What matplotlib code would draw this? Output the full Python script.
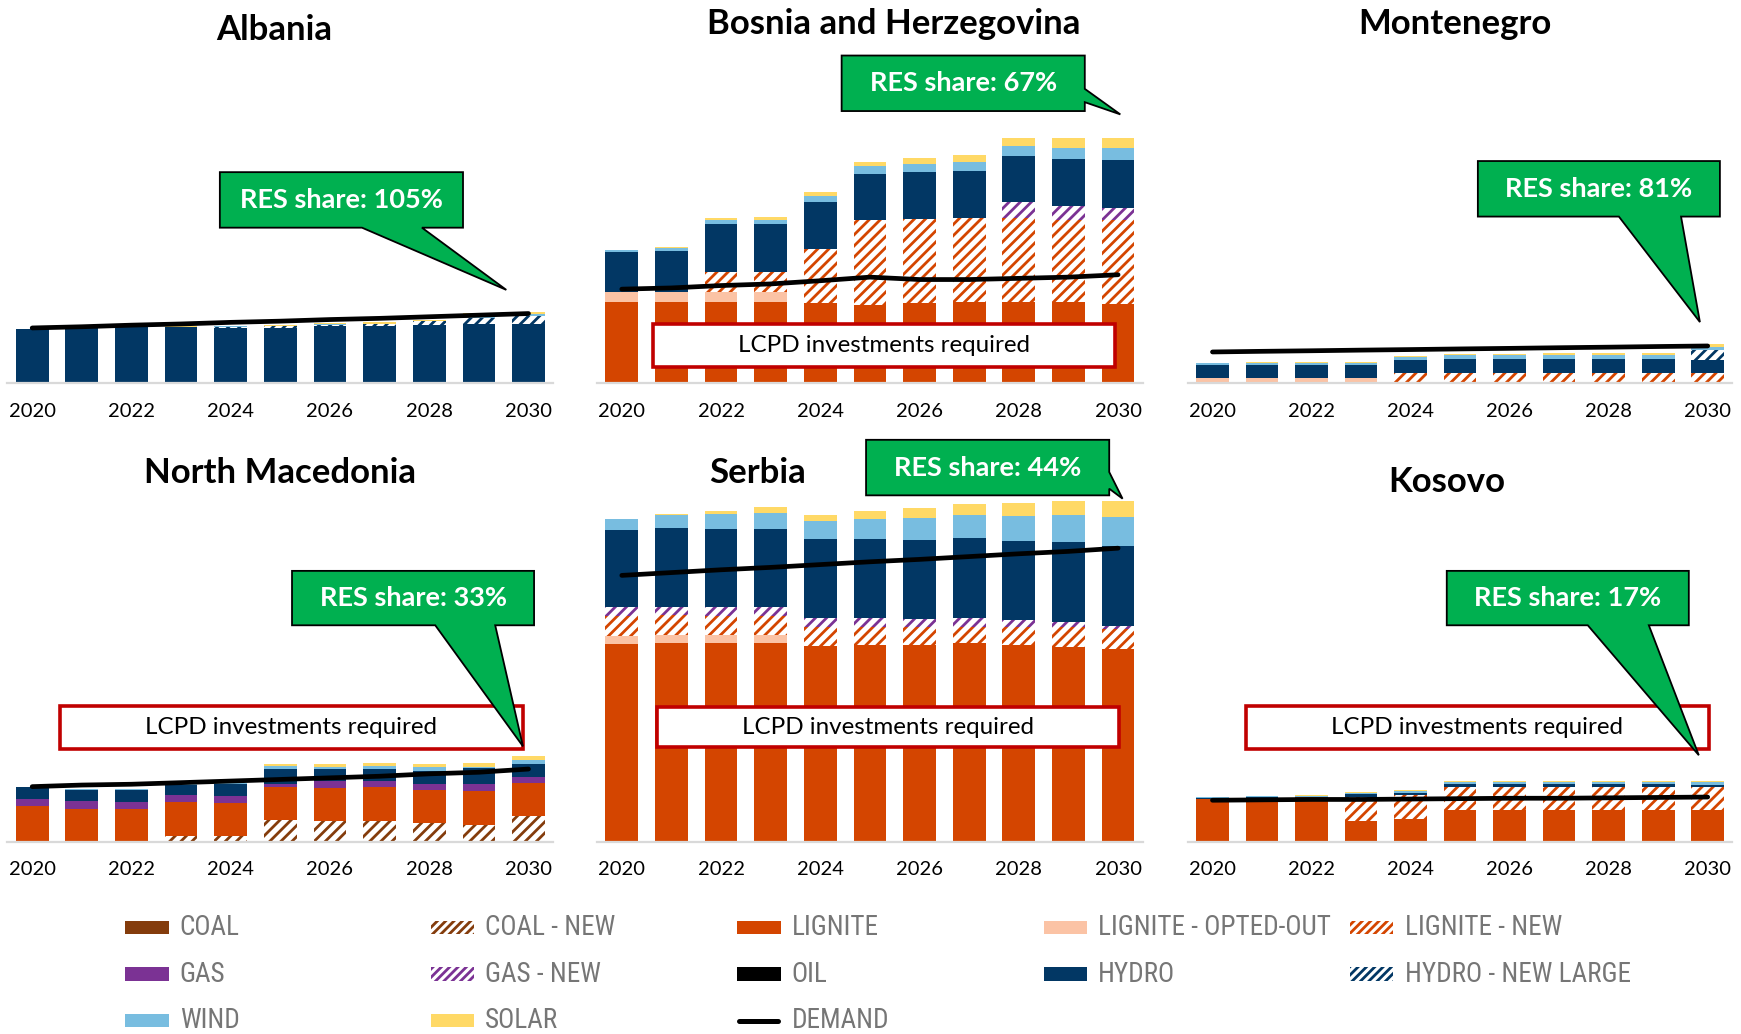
import numpy as np
import matplotlib
matplotlib.use("Agg")
import matplotlib.pyplot as plt
from matplotlib.patches import Polygon, Rectangle
from matplotlib.lines import Line2D
from matplotlib import font_manager

plt.rcParams['font.family'] = ['Lato', 'DejaVu Sans']
plt.rcParams['hatch.linewidth'] = 2.0

# ---------------- data (TWh) ----------------
YEARS = [2020, 2021, 2022, 2023, 2024, 2025, 2026, 2027, 2028, 2029, 2030]
TICK_YEARS = [2020, 2022, 2024, 2026, 2028, 2030]

# Albania
ALB_HYDRO = [6.8, 6.9, 7.0, 7.0, 6.9, 6.9, 7.1, 7.1, 7.3, 7.4, 7.4]
ALB_HYDRO_NEW = [0, 0, 0, 0.05, 0.15, 0.2, 0.2, 0.25, 0.5, 0.8, 1.05]
ALB_WIND = [0, 0, 0, 0, 0.05, 0.05, 0.1, 0.1, 0.0, 0.3, 0.2]
ALB_SOLAR = [0.02, 0.02, 0.03, 0.05, 0.05, 0.1, 0.15, 0.2, 0.05, 0.3, 0.3]
ALB_DEMAND = [6.9, 7.05, 7.25, 7.4, 7.6, 7.75, 7.95, 8.1, 8.3, 8.5, 8.7]

# Bosnia and Herzegovina
BIH_LIGNITE = [10.1, 10.1, 10.1, 10.1, 10.0, 9.8, 10.0, 10.1, 10.1, 10.1, 9.9]
BIH_LIG_OPT = [1.25, 1.25, 1.25, 1.25, 0, 0, 0, 0, 0, 0, 0]
BIH_LIG_NEW = [0, 0, 2.6, 2.6, 6.8, 10.6, 10.5, 10.5, 10.6, 10.3, 10.5]
BIH_GAS_NEW = [0, 0, 0, 0, 0, 0, 0, 0, 1.9, 1.75, 1.5]
BIH_HYDRO = [5.1, 5.2, 5.9, 5.9, 5.9, 5.8, 5.9, 5.9, 5.8, 5.9, 6.0]
BIH_WIND = [0.2, 0.3, 0.55, 0.6, 0.7, 0.9, 1.0, 1.1, 1.25, 1.4, 1.45]
BIH_SOLAR = [0, 0.2, 0.25, 0.35, 0.55, 0.6, 0.7, 0.9, 1.05, 1.15, 1.3]
BIH_DEMAND = [11.75, 11.9, 12.2, 12.4, 12.8, 13.25, 12.95, 12.95, 13.1, 13.25, 13.55]

# Montenegro
MNE_LIG_OPT = [0.67, 0.67, 0.67, 0.67, 0, 0, 0, 0, 0, 0, 0]
MNE_LIG_NEW = [0, 0, 0, 0, 1.33, 1.33, 1.33, 1.33, 1.33, 1.33, 1.33]
MNE_HYDRO = [1.55, 1.6, 1.6, 1.6, 1.6, 1.65, 1.65, 1.65, 1.65, 1.65, 1.6]
MNE_HYDRO_NEW = [0, 0, 0, 0, 0, 0.1, 0.1, 0.1, 0.1, 0.1, 1.25]
MNE_WIND = [0.3, 0.3, 0.3, 0.3, 0.33, 0.4, 0.4, 0.4, 0.4, 0.4, 0.33]
MNE_SOLAR = [0, 0.1, 0.12, 0.12, 0.17, 0.12, 0.17, 0.25, 0.3, 0.3, 0.4]
MNE_DEMAND = [3.9, 3.98, 4.05, 4.13, 4.2, 4.28, 4.35, 4.43, 4.5, 4.58, 4.65]

# North Macedonia
MKD_COAL_NEW = [0, 0, 0, 0.75, 0.7, 2.7, 2.6, 2.6, 2.4, 2.15, 3.25]
MKD_LIGNITE = [4.45, 4.1, 4.1, 4.25, 4.2, 4.2, 4.1, 4.2, 4.1, 4.2, 4.1]
MKD_GAS = [0.95, 0.95, 0.85, 0.8, 0.85, 0.35, 0.9, 0.75, 0.75, 0.85, 0.7]
MKD_HYDRO = [1.4, 1.45, 1.5, 1.3, 1.5, 1.9, 1.45, 1.55, 1.55, 2.0, 1.7]
MKD_WIND = [0.1, 0.1, 0.1, 0.1, 0.1, 0.35, 0.35, 0.4, 0.5, 0.15, 0.5]
MKD_SOLAR = [0, 0, 0.1, 0.05, 0.05, 0.25, 0.3, 0.35, 0.4, 0.45, 0.45]
MKD_DEMAND = [6.9, 7.1, 7.2, 7.4, 7.6, 7.8, 8.0, 8.2, 8.5, 8.7, 9.1]

# Serbia
SRB_LIGNITE = [24.7, 24.9, 24.8, 24.8, 24.5, 24.6, 24.6, 24.8, 24.6, 24.4, 24.1]
SRB_LIG_OPT = [1.05, 0.95, 1.05, 1.05, 0, 0, 0, 0, 0, 0, 0]
SRB_LIG_NEW = [2.5, 2.5, 2.4, 2.4, 2.3, 2.25, 2.2, 2.1, 2.2, 2.4, 2.5]
SRB_GAS_NEW = [1.05, 1.05, 1.1, 1.1, 1.15, 1.15, 1.05, 1.1, 0.9, 0.7, 0.4]
SRB_HYDRO = [9.7, 9.8, 9.75, 9.75, 9.9, 9.9, 9.9, 9.95, 9.9, 10.0, 10.0]
SRB_WIND = [1.35, 1.6, 1.85, 2.05, 2.2, 2.45, 2.7, 2.9, 3.15, 3.4, 3.6]
SRB_SOLAR = [0, 0.2, 0.4, 0.65, 0.85, 1.05, 1.25, 1.4, 1.55, 1.75, 2.05]
SRB_DEMAND = [33.3, 33.65, 34.0, 34.3, 34.65, 35.0, 35.3, 35.65, 36.0, 36.3, 36.7]

# Kosovo
KOS_LIGNITE = [5.4, 5.5, 5.6, 2.6, 2.9, 3.95, 3.95, 3.95, 3.95, 3.95, 3.95]
KOS_LIG_NEW = [0, 0, 0, 3.05, 2.9, 2.9, 2.9, 2.9, 2.9, 2.9, 2.9]
KOS_HYDRO = [0.1, 0.1, 0.05, 0.3, 0.35, 0.35, 0.35, 0.35, 0.35, 0.35, 0.3]
KOS_WIND = [0.15, 0.1, 0.1, 0.2, 0.2, 0.25, 0.25, 0.25, 0.25, 0.25, 0.3]
KOS_SOLAR = [0, 0, 0.1, 0.1, 0.15, 0.15, 0.15, 0.15, 0.15, 0.15, 0.2]
KOS_DEMAND = [5.2, 5.25, 5.3, 5.3, 5.35, 5.4, 5.45, 5.45, 5.5, 5.55, 5.6]

RES_SHARE = {"Albania": "105%", "Bosnia and Herzegovina": "67%", "Montenegro": "81%",
             "North Macedonia": "33%", "Serbia": "44%", "Kosovo": "17%"}

# ---------------- styles ----------------
# key, legend label, colour, hatched
SERIES = [
    ("COAL", "COAL", "#843C0C", False),
    ("COAL_NEW", "COAL - NEW", "#843C0C", True),
    ("LIGNITE", "LIGNITE", "#D44500", False),
    ("LIG_OPT", "LIGNITE - OPTED-OUT", "#FBC3A5", False),
    ("LIG_NEW", "LIGNITE - NEW", "#D44500", True),
    ("GAS", "GAS", "#7B3294", False),
    ("GAS_NEW", "GAS - NEW", "#7B3294", True),
    ("OIL", "OIL", "#000000", False),
    ("HYDRO", "HYDRO", "#023764", False),
    ("HYDRO_NEW", "HYDRO - NEW LARGE", "#023764", True),
    ("WIND", "WIND", "#78BDE0", False),
    ("SOLAR", "SOLAR", "#FFD966", False),
]
STYLE = {k: (c, h) for k, _, c, h in SERIES}
HATCH = "///"
GREEN = "#00B050"
RED = "#C00000"

# panel geometry in reference pixels (1568 x 931 view)
W, H = 1568.0, 931.0
PX_PER_TWH = 7.205


def fx(x):
    return x / W


def fy(y):
    return 1 - y / H


def draw_panel(fig, left, right, base, top, series, demand):
    ax = fig.add_axes([fx(left), fy(base), (right - left) / W, (base - top) / H])
    x = np.arange(len(YEARS))
    bottom = np.zeros(len(YEARS))
    for key, vals in series:
        vals = np.asarray(vals, dtype=float)
        color, hatched = STYLE[key]
        if hatched:
            ax.bar(x, vals, 0.66, bottom=bottom, facecolor="white", edgecolor=color,
                   hatch=HATCH, linewidth=0)
        else:
            ax.bar(x, vals, 0.66, bottom=bottom, color=color, linewidth=0)
        bottom += vals
    ax.plot(x, demand, color="black", lw=3.4, solid_capstyle="round", zorder=5)
    ax.set_xlim(-0.5, len(YEARS) - 0.5)
    ax.set_ylim(0, (base - top) / PX_PER_TWH)
    ax.set_xticks([YEARS.index(y) for y in TICK_YEARS])
    ax.set_xticklabels([str(y) for y in TICK_YEARS], fontsize=14.5)
    ax.tick_params(axis="x", length=0, pad=14)
    ax.set_yticks([])
    for s in ["left", "right", "top"]:
        ax.spines[s].set_visible(False)
    ax.spines["bottom"].set_color("#D9D9D9")
    ax.spines["bottom"].set_linewidth(1.6)
    ax.patch.set_alpha(0)
    return ax


fig = plt.figure(figsize=(17.41, 10.34), dpi=100)

COLS = [(6.65, 498.35), (537.65, 1029.35), (1069.7, 1560.3)]
TOP_BASE, BOT_BASE = 345, 758

panels = [
    ("Albania", 0, TOP_BASE, 60,
     [("HYDRO", ALB_HYDRO), ("HYDRO_NEW", ALB_HYDRO_NEW), ("WIND", ALB_WIND), ("SOLAR", ALB_SOLAR)],
     ALB_DEMAND, (247, 27)),
    ("Bosnia and Herzegovina", 1, TOP_BASE, 60,
     [("LIGNITE", BIH_LIGNITE), ("LIG_OPT", BIH_LIG_OPT), ("LIG_NEW", BIH_LIG_NEW),
      ("GAS_NEW", BIH_GAS_NEW), ("HYDRO", BIH_HYDRO), ("WIND", BIH_WIND), ("SOLAR", BIH_SOLAR)],
     BIH_DEMAND, (805, 22)),
    ("Montenegro", 2, TOP_BASE, 60,
     [("LIG_OPT", MNE_LIG_OPT), ("LIG_NEW", MNE_LIG_NEW), ("HYDRO", MNE_HYDRO),
      ("HYDRO_NEW", MNE_HYDRO_NEW), ("WIND", MNE_WIND), ("SOLAR", MNE_SOLAR)],
     MNE_DEMAND, (1310, 22)),
    ("North Macedonia", 0, BOT_BASE, 440,
     [("COAL_NEW", MKD_COAL_NEW), ("LIGNITE", MKD_LIGNITE), ("GAS", MKD_GAS),
      ("HYDRO", MKD_HYDRO), ("WIND", MKD_WIND), ("SOLAR", MKD_SOLAR)],
     MKD_DEMAND, (252, 426)),
    ("Serbia", 1, BOT_BASE, 440,
     [("LIGNITE", SRB_LIGNITE), ("LIG_OPT", SRB_LIG_OPT), ("LIG_NEW", SRB_LIG_NEW),
      ("GAS_NEW", SRB_GAS_NEW), ("HYDRO", SRB_HYDRO), ("WIND", SRB_WIND), ("SOLAR", SRB_SOLAR)],
     SRB_DEMAND, (682, 426)),
    ("Kosovo", 2, BOT_BASE, 440,
     [("LIGNITE", KOS_LIGNITE), ("LIG_NEW", KOS_LIG_NEW), ("HYDRO", KOS_HYDRO),
      ("WIND", KOS_WIND), ("SOLAR", KOS_SOLAR)],
     KOS_DEMAND, (1303, 434)),
]

for name, col, base, top, series, demand, tpos in panels:
    left, right = COLS[col]
    draw_panel(fig, left, right, base, top, series, demand)
    fig.text(fx(tpos[0]), fy(tpos[1]), name, ha="center", va="center",
             fontsize=25, fontweight="bold")

# LCPD boxes
LCPD_BOXES = [(588, 292, 1004, 330), (54, 636, 471, 674), (592, 637, 1008, 673), (1122, 636, 1539, 674)]
for x0, y0, x1, y1 in LCPD_BOXES:
    fig.add_artist(Rectangle((fx(x0), fy(y1)), (x1 - x0) / W, (y1 - y0) / H,
                             transform=fig.transFigure, facecolor="white",
                             edgecolor=RED, linewidth=2.6, zorder=4))
    fig.text(fx((x0 + x1) / 2), fy((y0 + y1) / 2), "LCPD investments required",
             ha="center", va="center", fontsize=17.4, zorder=5)


# RES share callouts
def callout_bottom(x0, y0, x1, y1, ta, tb, tip):
    return [(x0, y0), (x1, y0), (x1, y1), (tb, y1), tip, (ta, y1), (x0, y1)]


def callout_right(x0, y0, x1, y1, ya, yb, tip):
    return [(x0, y0), (x1, y0), (x1, ya), tip, (x1, yb), (x1, y1), (x0, y1)]


CALLOUTS = [
    ("Albania", (198, 155, 417, 205), callout_bottom(198, 155, 417, 205, 326, 380, (456, 261))),
    ("Bosnia and Herzegovina", (758, 50, 977, 100), callout_right(758, 50, 977, 100, 80, 92, (1009, 103))),
    ("Montenegro", (1331, 145, 1549, 195), callout_bottom(1331, 145, 1549, 195, 1458, 1514, (1531, 290))),
    ("North Macedonia", (263, 514, 481, 563), callout_bottom(263, 514, 481, 563, 392, 446, (471, 672))),
    ("Serbia", (780, 396, 999, 446), callout_right(780, 396, 999, 446, 425, 440, (1011, 449))),
    ("Kosovo", (1303, 514, 1521, 563), callout_bottom(1303, 514, 1521, 563, 1430, 1485, (1530, 680))),
]
for name, box, pts in CALLOUTS:
    fig.add_artist(Polygon([(fx(a), fy(b)) for a, b in pts], closed=True,
                           transform=fig.transFigure, facecolor=GREEN,
                           edgecolor="black", linewidth=1.3, zorder=6))
    fig.text(fx((box[0] + box[2]) / 2), fy((box[1] + box[3]) / 2),
             "RES share: " + RES_SHARE[name], ha="center", va="center",
             fontsize=19.5, fontweight="bold", color="white", zorder=7)

# legend, drawn by hand on a 5 column grid
names = {f.name for f in font_manager.fontManager.ttflist}
LEG_FONT = next((n for n in ["Liberation Sans Narrow", "Roboto Condensed", "Roboto"] if n in names),
                "DejaVu Sans")
LEG_X = [113, 388, 664, 940, 1216]
LEG_Y = [835, 877, 919]
LEG_ORDER = [
    ["COAL", "COAL_NEW", "LIGNITE", "LIG_OPT", "LIG_NEW"],
    ["GAS", "GAS_NEW", "OIL", "HYDRO", "HYDRO_NEW"],
    ["WIND", "SOLAR", "DEMAND"],
]
LABELS = {k: lab for k, lab, _, _ in SERIES}
LABELS["DEMAND"] = "DEMAND"
for r, row in enumerate(LEG_ORDER):
    for c, key in enumerate(row):
        x, y = LEG_X[c], LEG_Y[r]
        if key == "DEMAND":
            fig.add_artist(Line2D([fx(x + 2), fx(x + 37)], [fy(y), fy(y)], transform=fig.transFigure,
                                  color="black", lw=3.6, solid_capstyle="round"))
        else:
            color, hatched = STYLE[key]
            if hatched:
                fig.add_artist(Rectangle((fx(x), fy(y + 6)), 39 / W, 12 / H, transform=fig.transFigure,
                                         facecolor="white", edgecolor=color, hatch="////", linewidth=0))
            else:
                fig.add_artist(Rectangle((fx(x), fy(y + 6)), 39 / W, 12 / H, transform=fig.transFigure,
                                         facecolor=color, linewidth=0))
        fig.text(fx(x + 49), fy(y), LABELS[key], ha="left", va="center", fontsize=19.5,
                 color="#767676", family=LEG_FONT)

fig.savefig("out.png", dpi=100)
